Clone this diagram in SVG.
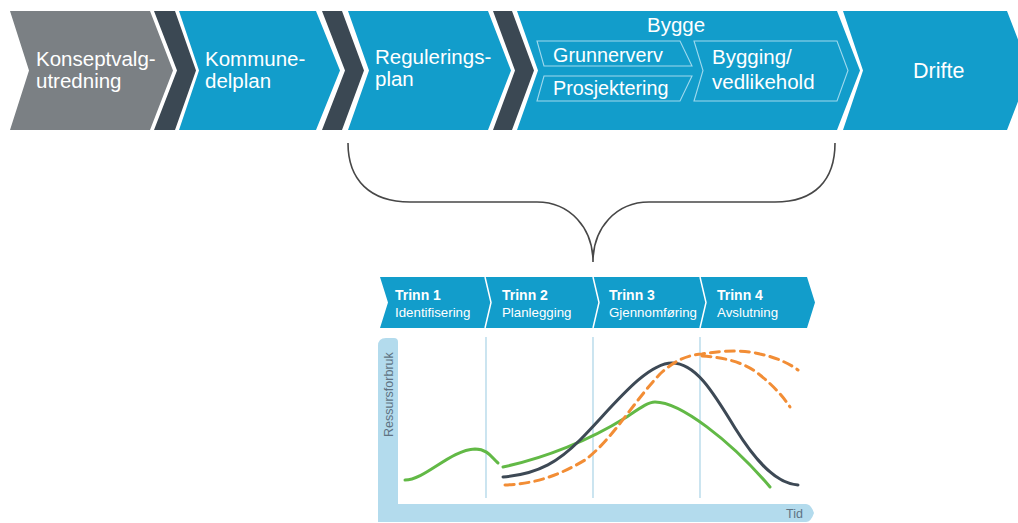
<svg xmlns="http://www.w3.org/2000/svg" width="1018" height="523" viewBox="0 0 1018 523">
<style>
.blue{fill:#129dcb}
.gray{fill:#7b8084}
.dark{fill:#3b4853}
.t{font-family:"Liberation Sans",Arial,sans-serif;fill:#ffffff;font-size:20.5px}
.sub{fill:none;stroke:#9fd9ee;stroke-width:1.1}
.tb{font-family:"Liberation Sans",Arial,sans-serif;fill:#ffffff;font-size:14px;font-weight:bold}
.ts{font-family:"Liberation Sans",Arial,sans-serif;fill:#ffffff;font-size:13.3px}
.grid{stroke:#a9d3e6;stroke-width:1.2}
.ax{font-family:"Liberation Sans",Arial,sans-serif;fill:#5f7383;font-size:12.5px}
.curve{fill:none;stroke-width:3;stroke-linecap:round}
</style>
<rect width="1018" height="523" fill="#ffffff"/>

<g id="node-konseptvalg">
<polygon class="gray" points="10,11 150,11 173,70.5 150,130 10,130 29,70.5"/>
<text class="t" x="36" y="66">Konseptvalg-</text>
<text class="t" x="36" y="88">utredning</text>
</g>
<g id="sep1"><polygon class="dark" points="154,11 175,11 196,70.5 175,130 154,130 177,70.5"/></g>
<g id="node-kommunedelplan">
<polygon class="blue" points="179,11 316,11 340,70.5 316,130 179,130 199,70.5"/>
<text class="t" x="205" y="66">Kommune-</text>
<text class="t" x="205" y="88">delplan</text>
</g>
<g id="sep2"><polygon class="dark" points="322,11 342,11 364,70.5 342,130 322,130 345,70.5"/></g>
<g id="node-reguleringsplan">
<polygon class="blue" points="348,11 488,11 511,70.5 488,130 348,130 369,70.5"/>
<text class="t" x="375" y="64">Regulerings-</text>
<text class="t" x="375" y="86">plan</text>
</g>
<g id="sep3"><polygon class="dark" points="493,11 512,11 534,70.5 512,130 493,130 515,70.5"/></g>
<g id="node-bygge">
<polygon class="blue" points="517,11 837,11 860,70.5 837,130 517,130 538,70.5"/>
<text class="t" x="647" y="32">Bygge</text>
<polygon class="sub" points="537,41 680,41 692,66 544,66"/>
<text class="t" x="553" y="62" style="font-size:19.8px">Grunnerverv</text>
<polygon class="sub" points="544,76 692,76 680,101 537,101"/>
<text class="t" x="553" y="95" style="font-size:19.8px">Prosjektering</text>
<polygon class="sub" points="694,41 837,41 848,70.5 837,101 694,101 703,70.5"/>
<text class="t" x="712" y="64">Bygging/</text>
<text class="t" x="712" y="89">vedlikehold</text>
</g>
<g id="node-drifte">
<polygon class="blue" points="843,11 1007,11 1030,70.5 1007,130 843,130 863,70.5"/>
<text class="t" x="913" y="78" style="font-size:21.5px">Drifte</text>
</g>

<g id="connectors">
<path d="M348,143 C348,180 370,202 410,202 L537,202 C570,202 593,228 593,262 C593,228 616,202 649,202 L775,202 C815,202 835,180 835,143" fill="none" stroke="#474747" stroke-width="1.6"/>
</g>

<g id="trinn-bar">
<polygon class="blue" points="380,277 807,277 815,302.5 807,328 380,328 388,302.5"/>
<polyline points="485,277 491,302.5 485,328" fill="none" stroke="#ffffff" stroke-width="1.5"/>
<polyline points="593,277 599,302.5 593,328" fill="none" stroke="#ffffff" stroke-width="1.5"/>
<polyline points="700,277 706,302.5 700,328" fill="none" stroke="#ffffff" stroke-width="1.5"/>
</g>
<g id="trinn1"><text class="tb" x="395" y="300">Trinn 1</text><text class="ts" x="395" y="317">Identifisering</text></g>
<g id="trinn2"><text class="tb" x="502" y="300">Trinn 2</text><text class="ts" x="502" y="317">Planlegging</text></g>
<g id="trinn3"><text class="tb" x="609" y="300">Trinn 3</text><text class="ts" x="609" y="317">Gjennomføring</text></g>
<g id="trinn4"><text class="tb" x="717" y="300">Trinn 4</text><text class="ts" x="717" y="317">Avslutning</text></g>

<g id="chart">
<path d="M378,346 Q378,338 386,338 L394,338 Q398,338 398,342 L398,504 L806,504 Q811,504 814,513 Q811,522 806,522 L378,522 Z" fill="#b3dbed"/>
<text class="ax" transform="translate(393,437) rotate(-90)">Ressursforbruk</text>
<text class="ax" x="786" y="518">Tid</text>
<line class="grid" x1="486" y1="337" x2="486" y2="498"/>
<line class="grid" x1="593" y1="337" x2="593" y2="498"/>
<line class="grid" x1="700" y1="337" x2="700" y2="498"/>
<path class="curve" stroke="#62b946" d="M405,480 C425,480 450,450 475,449 C488,449 492,458 498,463"/>
<path class="curve" stroke="#62b946" d="M503,467 C545,458 590,440 625,418 C640,408 648,402 655,402 C680,402 730,440 770,487"/>
<path class="curve" stroke="#3d4955" d="M503,477 C540,474 560,460 580,440 C610,410 645,363 672,363 C695,363 712,390 735,428 C758,465 778,484 798,485"/>
<path class="curve" stroke="#f28d35" stroke-dasharray="9,6" stroke-linecap="butt" d="M505,485 C535,484 560,475 585,460 C612,440 635,400 660,374 C675,360 688,355 702,354 C725,350 745,350 760,354 C778,358 790,364 798,370"/>
<path class="curve" stroke="#f28d35" stroke-dasharray="9,6" stroke-linecap="butt" d="M702,356 C722,357 745,362 760,375 C775,387 784,398 790,407"/>
</g>
</svg>
